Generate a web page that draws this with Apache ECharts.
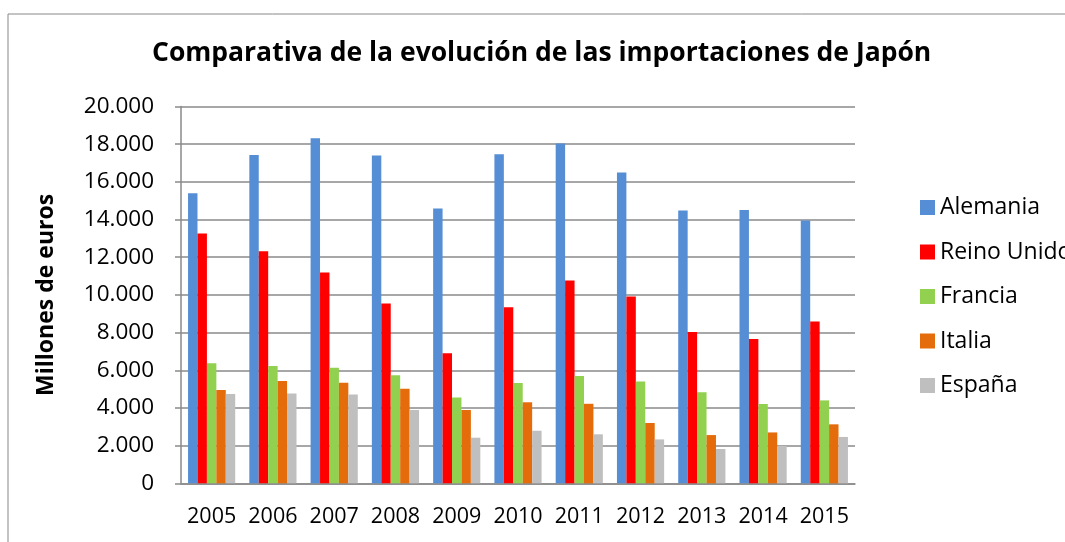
<!DOCTYPE html>
<html>
<head>
<meta charset="utf-8">
<title>Importaciones de Japón</title>
<script src="https://cdn.jsdelivr.net/npm/echarts@6/dist/echarts.min.js"></script>
<style>
  html, body { margin: 0; padding: 0; background: #fff; }
  #chart { width: 1065px; height: 542px; }
</style>
</head>
<body>
<div id="chart"></div>
<script>
// años (eje x)
var years = ['2005', '2006', '2007', '2008', '2009', '2010', '2011', '2012', '2013', '2014', '2015'];

// importaciones por país, millones de euros
var alemania   = [15400, 17420, 18320, 17400, 14590, 17470, 18040, 16500, 14480, 14500, 13950];
var reinoUnido = [13260, 12320, 11190, 9550, 6900, 9350, 10770, 9920, 8030, 7660, 8590];
var francia    = [6370, 6220, 6130, 5730, 4560, 5320, 5690, 5410, 4830, 4210, 4400];
var italia     = [4950, 5430, 5340, 5020, 3890, 4300, 4220, 3200, 2560, 2700, 3130];
var espana     = [4740, 4770, 4720, 3890, 2420, 2790, 2600, 2330, 1820, 1980, 2460];

var countries = ['Alemania', 'Reino Unido', 'Francia', 'Italia', 'España'];
var colors = ['#558ED5', '#FF0000', '#92D050', '#E46C0A', '#BFBFBF'];
var values = [alemania, reinoUnido, francia, italia, espana];

var font = 'Open Sans';

var myChart = echarts.init(document.getElementById('chart'));

// una serie de barras por país
var series = countries.map(function (name, i) {
  return {
    name: name,
    type: 'bar',
    data: values[i],
    barGap: '0%',
    barCategoryGap: '23%',
    itemStyle: { color: colors[i] }
  };
});

var option = {
  animation: false,
  color: colors,
  // marco exterior del gráfico
  graphic: [{
    type: 'rect',
    shape: { x: 8, y: 14, width: 1200, height: 700 },
    style: { fill: 'none', stroke: '#888', lineWidth: 1 }
  }],
  title: {
    text: 'Comparativa de la evolución de las importaciones de Japón',
    left: 147,
    top: 35,
    textStyle: { fontFamily: font, fontSize: 26.5, fontWeight: 'bold', color: '#000' }
  },
  legend: {
    orient: 'vertical',
    left: 915,
    top: 191,
    itemWidth: 15,
    itemHeight: 15,
    itemGap: 21.5,
    icon: 'rect',
    textStyle: { fontFamily: font, fontSize: 23, color: '#000', lineHeight: 23 },
    data: countries
  },
  grid: { left: 181, right: 210, top: 106.5, bottom: 58.7, containLabel: false },
  xAxis: {
    type: 'category',
    data: years,
    axisLine: { lineStyle: { color: '#8a8a8a', width: 1.5 } },
    axisTick: { show: false },
    axisLabel: { interval: 0, fontFamily: font, fontSize: 21.5, color: '#000', margin: 23 }
  },
  yAxis: {
    type: 'value',
    min: 0,
    max: 20000,
    interval: 2000,
    name: 'Millones de euros',
    nameLocation: 'middle',
    nameGap: 123,
    nameTextStyle: { fontFamily: font, fontSize: 23, fontWeight: 'bold', color: '#000' },
    axisLine: { show: true, lineStyle: { color: '#8a8a8a', width: 1.5 } },
    axisTick: { show: true, length: 6, lineStyle: { color: '#8a8a8a', width: 1.5 } },
    splitLine: { lineStyle: { color: '#8a8a8a', width: 1.5 } },
    axisLabel: {
      fontFamily: font,
      fontSize: 22.5,
      color: '#000',
      margin: 27,
      formatter: function (v) {
        return v.toString().replace(/\B(?=(\d{3})+(?!\d))/g, '.');
      }
    }
  },
  series: series
};

myChart.setOption(option);
</script>
</body>
</html>
